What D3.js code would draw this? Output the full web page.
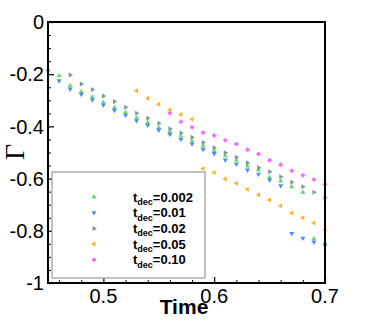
<!DOCTYPE html>
<html><head><meta charset="utf-8">
<script src="https://cdn.jsdelivr.net/npm/d3@7"></script>
<style>body{margin:0;background:#fff;}svg{display:block;}</style>
</head><body>
<script>
// ---- data ----
const labels = ["0.002", "0.01", "0.02", "0.05", "0.10"];
const times002 = [0.46,0.47,0.48,0.49,0.50,0.51,0.52,0.53,0.54,0.55,0.56,0.57,0.58,0.59,0.60,0.61,0.62,0.63,0.64,0.65,0.66,0.67,0.68,0.69,0.70];
const gamma002 = [-0.206,-0.244,-0.267,-0.287,-0.308,-0.328,-0.346,-0.367,-0.386,-0.405,-0.420,-0.437,-0.457,-0.475,-0.493,-0.513,-0.529,-0.552,-0.567,-0.595,-0.609,-0.631,-0.652,-0.831,-0.852];
const times001 = [0.45,0.46,0.47,0.48,0.49,0.50,0.51,0.52,0.53,0.54,0.55,0.56,0.57,0.58,0.59,0.60,0.61,0.62,0.63,0.64,0.65,0.66,0.67,0.68,0.69,0.70];
const gamma001 = [-0.188,-0.225,-0.257,-0.277,-0.298,-0.318,-0.338,-0.357,-0.378,-0.395,-0.414,-0.430,-0.450,-0.467,-0.488,-0.504,-0.529,-0.544,-0.567,-0.583,-0.605,-0.627,-0.810,-0.828,-0.843,-0.854];
const times02 = [0.47,0.48,0.49,0.50,0.51,0.52,0.53,0.54,0.55,0.56,0.57,0.58,0.59,0.60,0.61,0.62,0.63,0.64,0.65,0.66,0.67,0.68,0.69,0.70];
const gamma02 = [-0.203,-0.238,-0.259,-0.284,-0.305,-0.327,-0.350,-0.369,-0.388,-0.409,-0.425,-0.442,-0.462,-0.482,-0.501,-0.518,-0.539,-0.558,-0.574,-0.593,-0.614,-0.631,-0.652,-0.673];
const times05 = [0.53,0.54,0.55,0.56,0.57,0.58,0.59,0.60,0.61,0.62,0.63,0.64,0.65,0.66,0.67,0.68,0.69,0.70];
const gamma05 = [-0.263,-0.292,-0.315,-0.337,-0.354,-0.373,-0.561,-0.577,-0.602,-0.618,-0.641,-0.662,-0.682,-0.704,-0.732,-0.750,-0.770,-0.796];
const times10 = [0.56,0.57,0.58,0.59,0.60,0.61,0.62,0.63,0.64,0.65,0.66,0.67,0.68,0.69,0.70];
const gamma10 = [-0.350,-0.382,-0.403,-0.424,-0.435,-0.453,-0.467,-0.489,-0.506,-0.530,-0.547,-0.570,-0.587,-0.603,-0.622];
const xTicks = [0.5, 0.6, 0.7];
const xTickLabels = ["0.5", "0.6", "0.7"];
const xMinor = [0.46,0.48,0.52,0.54,0.56,0.58,0.62,0.64,0.66,0.68];
const yTicks = [0, -0.2, -0.4, -0.6, -0.8, -1];
const yTickLabels = ["0", "-0.2", "-0.4", "-0.6", "-0.8", "-1"];
const yMinor = [-0.05,-0.1,-0.15,-0.25,-0.3,-0.35,-0.45,-0.5,-0.55,-0.65,-0.7,-0.75,-0.85,-0.9,-0.95];

const series = [
  {label: labels[0], t: times002, g: gamma002, color: "#66d966", rot: 0},
  {label: labels[1], t: times001, g: gamma001, color: "#4d8cff", rot: 180},
  {label: labels[2], t: times02, g: gamma02, color: "#7a9a9a", rot: 90},
  {label: labels[3], t: times05, g: gamma05, color: "#ffb224", rot: -90},
  {label: labels[4], t: times10, g: gamma10, color: "#ff66ff", rot: null}
];

const W = 370, H = 329;
const L = 48, R = 325, T = 22, B = 283;
const x = d3.scaleLinear().domain([0.45, 0.7]).range([L, R]);
const y = d3.scaleLinear().domain([-1, 0]).range([B, T]);

const svg = d3.select("body").append("svg").attr("width", W).attr("height", H);
const font = "'Liberation Sans', Arial, Helvetica, sans-serif";

function sym(s) {
  return s.rot === null ? d3.symbol(d3.symbolDiamond2, 16)() : d3.symbol(d3.symbolTriangle, 11)();
}

// points
const gp = svg.append("g");
series.forEach(s => {
  gp.selectAll(null).data(s.t.map((t, i) => [t, s.g[i]])).enter().append("path")
    .attr("d", sym(s))
    .attr("transform", d => `translate(${x(d[0])},${y(d[1])}) rotate(${s.rot === null ? 0 : s.rot})`)
    .attr("fill", s.color);
});

// axes ticks (inward)
function tickGroup(axis, tr, w) {
  svg.append("g").attr("transform", tr).call(axis).call(g => g.select(".domain").remove())
    .selectAll("line").attr("stroke", "#000").attr("stroke-width", w);
}
tickGroup(d3.axisBottom(x).tickValues(xTicks).tickSize(-6).tickFormat(""), `translate(0,${B})`, 1.2);
tickGroup(d3.axisBottom(x).tickValues(xMinor).tickSize(-3).tickFormat(""), `translate(0,${B})`, 1);
tickGroup(d3.axisLeft(y).tickValues(yTicks).tickSize(-6).tickFormat(""), `translate(${L},0)`, 1.2);
tickGroup(d3.axisLeft(y).tickValues(yMinor).tickSize(-3).tickFormat(""), `translate(${L},0)`, 1);

// frame
svg.append("rect").attr("x", L).attr("y", T).attr("width", R - L).attr("height", B - T)
  .attr("fill", "none").attr("stroke", "#000").attr("stroke-width", 2);

// tick labels
svg.append("g").selectAll("text").data(yTicks).enter().append("text")
  .attr("x", L - 4).attr("y", d => y(d)).attr("dy", "0.36em").attr("text-anchor", "end")
  .attr("font-family", font).attr("font-size", 20).text((d, i) => yTickLabels[i]);
svg.append("g").selectAll("text").data(xTicks).enter().append("text")
  .attr("x", d => x(d)).attr("y", 303).attr("text-anchor", "middle")
  .attr("font-family", font).attr("font-size", 20).text((d, i) => xTickLabels[i]);

// axis titles
svg.append("text").attr("x", 184).attr("y", 314).attr("text-anchor", "middle")
  .attr("font-family", font).attr("font-weight", "bold").attr("font-size", 21).text("Time");
svg.append("text").attr("transform", "translate(24,152) rotate(-90)").attr("text-anchor", "middle")
  .attr("font-family", "'Liberation Serif', 'Times New Roman', serif").attr("font-size", 28).text("Γ");

// legend
const lg = svg.append("g");
lg.append("rect").attr("x", 52).attr("y", 172).attr("width", 153).attr("height", 106)
  .attr("fill", "#fff").attr("stroke", "#999").attr("stroke-width", 1.2);
series.forEach((s, i) => {
  const yy = 197 + i * 15.7;
  lg.append("path").attr("d", sym(s))
    .attr("transform", `translate(94,${yy}) rotate(${s.rot === null ? 0 : s.rot})`).attr("fill", s.color);
  const tx = lg.append("text").attr("x", 133).attr("y", yy + 4.5)
    .attr("font-family", font).attr("font-weight", "bold").attr("font-size", 13);
  tx.append("tspan").text("t");
  tx.append("tspan").attr("font-size", 9).attr("dy", 3.5).text("dec");
  tx.append("tspan").attr("dy", -3.5).text("=" + s.label);
});
</script>
</body></html>
